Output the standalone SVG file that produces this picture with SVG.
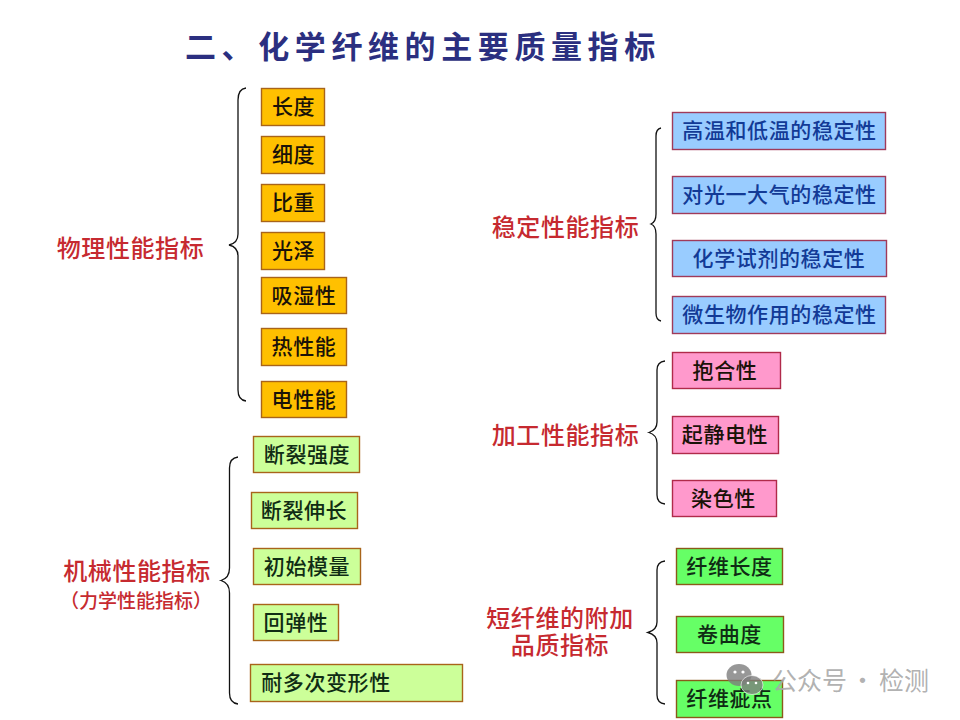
<svg xmlns="http://www.w3.org/2000/svg" width="960" height="720" viewBox="0 0 960 720">
<style>
text{font-family:"Noto Sans CJK SC","Noto Sans",sans-serif;}
.t{font-size:21px;letter-spacing:.6px;text-anchor:middle;fill:#1a1208;font-weight:500}
.bt{fill:#123a96}
.dk{fill:#0f2c14}
.l{font-size:24px;letter-spacing:.6px;text-anchor:middle;fill:#c62a30;font-weight:500}
.o{fill:#ffc000;stroke:#a8641a;stroke-width:1.4}
.b{fill:#99ccff;stroke:#a03a5a;stroke-width:1.4}
.p{fill:#ff99cc;stroke:#b02a4a;stroke-width:1.4}
.g{fill:#ccff99;stroke:#a8641a;stroke-width:1.4}
.h{fill:#66ff66;stroke:#8a5a1a;stroke-width:1.4}
.br{fill:none;stroke:#111;stroke-width:1.3}
</style>
<rect width="960" height="720" fill="#fff"/>
<text id="title" x="185" y="58" style="font-size:31px;letter-spacing:5.6px;fill:#2b2f80;font-weight:700">二、化学纤维的主要质量指标</text>
<g id="connectors">
<path class="br" d="M246 88Q238 89 238 100V234Q238 243 229 245Q238 247 238 256V390Q238 400 246 401"/>
<path class="br" d="M238 457Q229.500 458 229.500 468V568Q229.500 578 221 580.500Q229.500 583 229.500 593V693Q229.500 703 238 704"/>
<path class="br" d="M661 128Q656 129 656 136V214Q656 222 651 224Q656 226 656 234V313Q656 320 661 321"/>
<path class="br" d="M665 361Q657 362 657 370V422Q657 430 649 432.500Q657 435 657 443V495Q657 503 665 504"/>
<path class="br" d="M665 561Q657 562 657 570V622Q657 630 648 632.500Q657 635 657 643V695Q657 703 665 704"/>
</g>
<g id="group-physical"><text class="l" x="130.500" y="257">物理性能指标</text></g>
<g id="group-mechanical"><text class="l" x="137" y="580">机械性能指标</text><text x="136" y="608" style="font-size:19px;text-anchor:middle;fill:#c62a30;font-weight:500">（力学性能指标）</text></g>
<g id="group-stability"><text class="l" x="565.500" y="236">稳定性能指标</text></g>
<g id="group-processing"><text class="l" x="565.500" y="444">加工性能指标</text></g>
<g id="group-short"><text class="l" y="627"><tspan x="560">短纤维的附加</tspan><tspan x="560" dy="27">品质指标</tspan></text></g>

<g id="n1"><rect class="o" x="261.500" y="88.500" width="63" height="37"/><text class="t" x="293.500" y="114">长度</text></g>
<g id="n2"><rect class="o" x="261.500" y="136.500" width="63" height="37"/><text class="t" x="293.500" y="162">细度</text></g>
<g id="n3"><rect class="o" x="261.500" y="184.500" width="63" height="37"/><text class="t" x="293.500" y="210">比重</text></g>
<g id="n4"><rect class="o" x="261.500" y="232.500" width="63" height="37"/><text class="t" x="293.500" y="258">光泽</text></g>
<g id="n5"><rect class="o" x="261.500" y="277.500" width="85" height="36"/><text class="t" x="304" y="303">吸湿性</text></g>
<g id="n6"><rect class="o" x="261.500" y="328.500" width="85" height="37"/><text class="t" x="304" y="354">热性能</text></g>
<g id="n7"><rect class="o" x="261.500" y="381.500" width="85" height="36"/><text class="t" x="304" y="407">电性能</text></g>

<g id="n8"><rect class="g" x="253.500" y="436.500" width="106" height="36"/><text class="t dk" x="307" y="462">断裂强度</text></g>
<g id="n9"><rect class="g" x="251.500" y="492.500" width="106" height="36"/><text class="t dk" x="304" y="518">断裂伸长</text></g>
<g id="n10"><rect class="g" x="253.500" y="548.500" width="107" height="36"/><text class="t dk" x="307" y="574">初始模量</text></g>
<g id="n11"><rect class="g" x="253.500" y="604.500" width="85" height="36"/><text class="t dk" x="296" y="630">回弹性</text></g>
<g id="n12"><rect class="g" x="250.500" y="664.500" width="212" height="37"/><text class="t dk" x="326" y="690">耐多次变形性</text></g>

<g id="n13"><rect class="b" x="672.500" y="112.500" width="213" height="37"/><text class="t bt" x="779.500" y="138">高温和低温的稳定性</text></g>
<g id="n14"><rect class="b" x="672.500" y="176.500" width="213" height="37"/><text class="t bt" x="779.500" y="202">对光一大气的稳定性</text></g>
<g id="n15"><rect class="b" x="672.500" y="240.500" width="214" height="36"/><text class="t bt" x="779" y="266">化学试剂的稳定性</text></g>
<g id="n16"><rect class="b" x="672.500" y="296.500" width="213" height="37"/><text class="t bt" x="779.500" y="322">微生物作用的稳定性</text></g>

<g id="n17"><rect class="p" x="672.500" y="352.500" width="108" height="36"/><text class="t" x="725" y="378">抱合性</text></g>
<g id="n18"><rect class="p" x="672.500" y="416.500" width="106" height="37"/><text class="t" x="725" y="442">起静电性</text></g>
<g id="n19"><rect class="p" x="672.500" y="480.500" width="104" height="36"/><text class="t" x="723.500" y="506">染色性</text></g>

<g id="n20"><rect class="h" x="676.500" y="548.500" width="106" height="36"/><text class="t dk" x="729.500" y="574">纤维长度</text></g>
<g id="n21"><rect class="h" x="676.500" y="616.500" width="107" height="36"/><text class="t dk" x="729.500" y="642">卷曲度</text></g>
<g id="n22"><rect class="h" x="676.500" y="680.500" width="106" height="37"/><text class="t dk" x="729.500" y="706">纤维疵点</text></g>

<g id="watermark">
<ellipse cx="739" cy="675" rx="12.500" ry="11" fill="#7d7d7d" fill-opacity=".8"/>
<ellipse cx="752" cy="685" rx="11" ry="9.500" fill="#7d7d7d" fill-opacity=".8" stroke="#fff" stroke-opacity=".6" stroke-width="1"/>
<circle cx="735" cy="672" r="1.600" fill="#fff"/><circle cx="743" cy="672" r="1.600" fill="#fff"/>
<circle cx="748" cy="683" r="1.300" fill="#fff"/><circle cx="756" cy="683" r="1.300" fill="#fff"/>
<text y="690" style="font-size:25px;fill:#a8a8a8;fill-opacity:.9"><tspan x="772">公众号</tspan><tspan x="850">·</tspan><tspan x="879">检测</tspan></text>
</g>
</svg>
